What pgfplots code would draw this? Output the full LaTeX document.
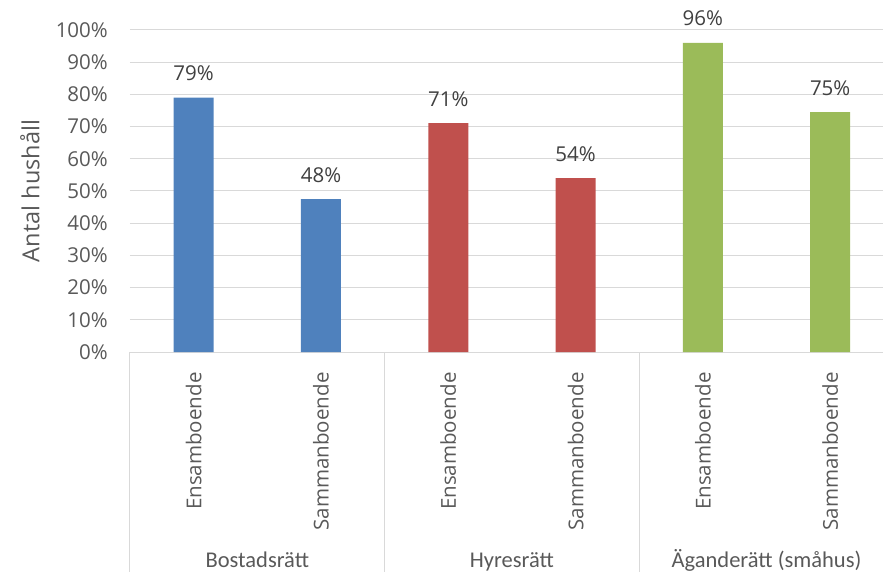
\documentclass[border=0pt]{standalone}
\usepackage{fontspec}
\setmainfont{Open Sans}
\newfontfamily\calfont{Carlito}
\usepackage{pgfplots}
\pgfplotsset{compat=1.18}
\definecolor{cblue}{HTML}{4F81BD}
\definecolor{cred}{HTML}{C0504D}
\definecolor{cgreen}{HTML}{9BBB59}
\definecolor{gridc}{HTML}{D9D9D9}
\definecolor{txt}{HTML}{595959}
\definecolor{lbl}{HTML}{404040}
\begin{document}
\begin{tikzpicture}
\begin{axis}[
  at={(0,0)}, anchor=south west,
  width=753pt, height=322pt, scale only axis,
  ybar, bar width=40pt, bar shift=0pt,
  xmin=-0.5, xmax=5.415, ymin=0, ymax=100,
  ytick={0,10,...,100},
  yticklabel={\pgfmathprintnumber{\tick}\%},
  /pgf/number format/assume math mode=true,
  ymajorgrids, grid style={color=gridc, line width=1pt},
  axis x line*=bottom, axis y line*=left,
  x axis line style={color=gridc, line width=1pt},
  y axis line style={draw=none},
  ytick style={draw=none},
  xtick={0,1,2,3,4,5},
  xticklabels={Ensamboende,Sammanboende,Ensamboende,Sammanboende,Ensamboende,Sammanboende},
  xtick style={draw=none},
  xticklabel shift=16pt,
  xticklabel style={rotate=90, anchor=east, inner sep=0pt, font=\fontsize{20.5}{24}\selectfont, text=txt},
  yticklabel style={anchor=east, inner sep=0pt, xshift=-22pt, font=\fontsize{20.5}{24}\selectfont, text=txt},
  ylabel={Antal hushåll},
  ylabel style={at={(axis description cs:-0.1328,0.5)}, anchor=center, font=\fontsize{23.5}{28}\selectfont, text=txt},
  point meta=explicit symbolic,
  nodes near coords,
  every node near coord/.append style={anchor=base, yshift=17pt, font=\fontsize{20.5}{24}\selectfont, text=lbl},
  clip=false,
]
\addplot[fill=cblue, draw=none] coordinates {(0,79) [79\%] (1,47.5) [48\%]};
\addplot[fill=cred, draw=none] coordinates {(2,71.1) [71\%] (3,54) [54\%]};
\addplot[fill=cgreen, draw=none] coordinates {(4,96) [96\%] (5,74.5) [75\%]};
\draw[gridc, line width=1pt] (axis cs:-0.5,0) -- ++(0pt,-230pt);
\draw[gridc, line width=1pt] (axis cs:1.5,0) -- ++(0pt,-230pt);
\draw[gridc, line width=1pt] (axis cs:3.5,0) -- ++(0pt,-230pt);
\node[anchor=base, font=\calfont\fontsize{22.5}{27}\selectfont, text=txt] at ([yshift=-215pt]axis cs:0.5,0) {Bostadsrätt};
\node[anchor=base, font=\calfont\fontsize{22.5}{27}\selectfont, text=txt] at ([yshift=-215pt]axis cs:2.5,0) {Hyresrätt};
\node[anchor=base, font=\calfont\fontsize{22.5}{27}\selectfont, text=txt] at ([yshift=-215pt]axis cs:4.5,0) {Äganderätt (småhus)};
\end{axis}
\pgfresetboundingbox
\useasboundingbox (-130pt,-220pt) rectangle (753pt,352pt);
\end{tikzpicture}
\end{document}
